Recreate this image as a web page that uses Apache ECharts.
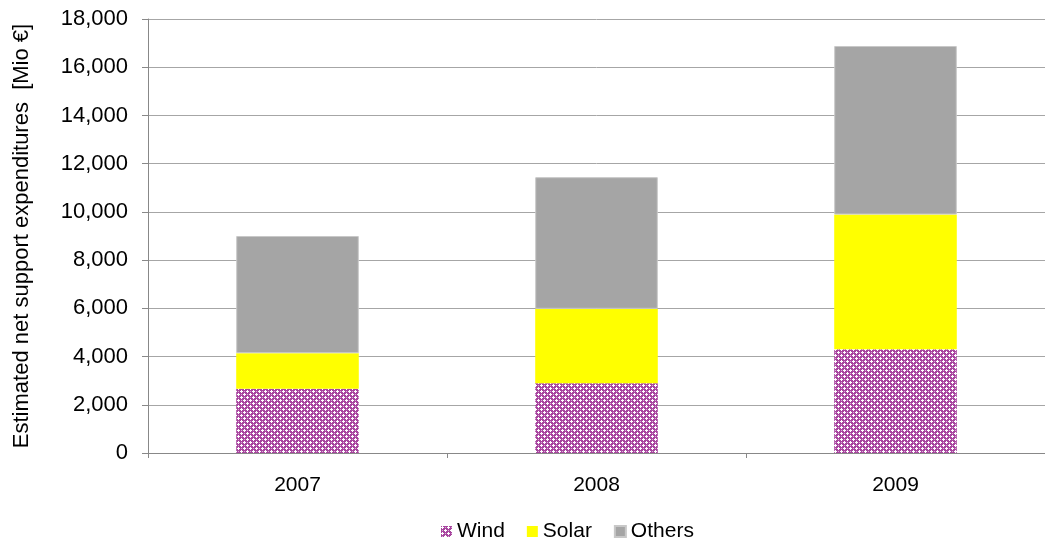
<!DOCTYPE html>
<html>
<head>
<meta charset="utf-8">
<script src="https://cdn.jsdelivr.net/npm/echarts@6/dist/echarts.min.js"></script>
<style>
html,body{margin:0;padding:0;background:#fff;}
#chart{width:1045px;height:544px;}
</style>
</head>
<body>
<div id="chart"></div>
<script>
const categories = ['2007', '2008', '2009'];
const wind = [2660, 2890, 4300];
const solar = [1480, 3090, 5590];
const others = [4860, 5460, 6990];
const yTicks = [0, 2000, 4000, 6000, 8000, 10000, 12000, 14000, 16000, 18000];

function makePattern() {
  const c = document.createElement('canvas');
  const n = 6;
  c.width = n; c.height = n;
  const ctx = c.getContext('2d');
  ctx.fillStyle = '#a8459f';
  ctx.fillRect(0, 0, n, n);
  const put = (x, y, col) => { ctx.fillStyle = col; ctx.fillRect(((x % n) + n) % n, ((y % n) + n) % n, 1, 1); };
  [[1, 1], [4, 4]].forEach(([cx, cy]) => {
    put(cx, cy, '#ffffff');
    put(cx + 1, cy, '#ffffff');
    put(cx - 1, cy, '#ffffff');
    put(cx, cy + 1, '#ffffff');
    put(cx, cy - 1, '#ffffff');
  });
  [[4, 1], [1, 4]].forEach(([cx, cy]) => {
    put(cx, cy, '#d9a8d6');
  });
  return c;
}
const windPattern = { image: makePattern(), repeat: 'repeat' };

const chart = echarts.init(document.getElementById('chart'));
const font = 'Liberation Sans, Arial, sans-serif';
chart.setOption({
  animation: false,
  textStyle: { fontFamily: font },
  grid: { left: 148, top: 19, width: 906, height: 434, containLabel: false },
  legend: {
    bottom: 2,
    left: 441,
    padding: 0,
    icon: 'rect',
    itemWidth: 11,
    itemHeight: 11,
    itemGap: 22,
    textStyle: { fontSize: 21, color: '#000', fontFamily: font },
    data: ['Wind', 'Solar', 'Others']
  },
  xAxis: {
    type: 'category',
    data: categories,
    axisLine: { lineStyle: { color: '#888888', width: 1 } },
    axisTick: { show: true, length: 5, lineStyle: { color: '#888888' } },
    axisLabel: { fontSize: 21, color: '#000', margin: 22, fontFamily: font }
  },
  yAxis: {
    type: 'value',
    min: yTicks[0],
    max: yTicks[yTicks.length - 1],
    interval: 2000,
    name: 'Estimated net support expenditures  [Mio €]',
    nameLocation: 'middle',
    nameGap: 115,
    nameTextStyle: { fontSize: 22, color: '#000', fontFamily: font },
    axisLine: { show: true, lineStyle: { color: '#888888', width: 1 } },
    axisTick: { show: true, length: 6, lineStyle: { color: '#888888' } },
    axisLabel: {
      fontSize: 22, color: '#000', margin: 20, fontFamily: font,
      formatter: v => v.toLocaleString('en-US')
    },
    splitLine: { lineStyle: { color: '#a6a6a6', width: 1 } }
  },
  series: [
    { name: 'Wind', type: 'bar', stack: 's', data: wind, barWidth: '41%',
      itemStyle: { color: windPattern } },
    { name: 'Solar', type: 'bar', stack: 's', data: solar, barWidth: '41%',
      itemStyle: { color: '#ffff00' } },
    { name: 'Others', type: 'bar', stack: 's', data: others, barWidth: '41%',
      itemStyle: { color: '#a5a5a5', borderColor: '#c8c8c8', borderWidth: 1 } }
  ]
});
</script>
</body>
</html>
